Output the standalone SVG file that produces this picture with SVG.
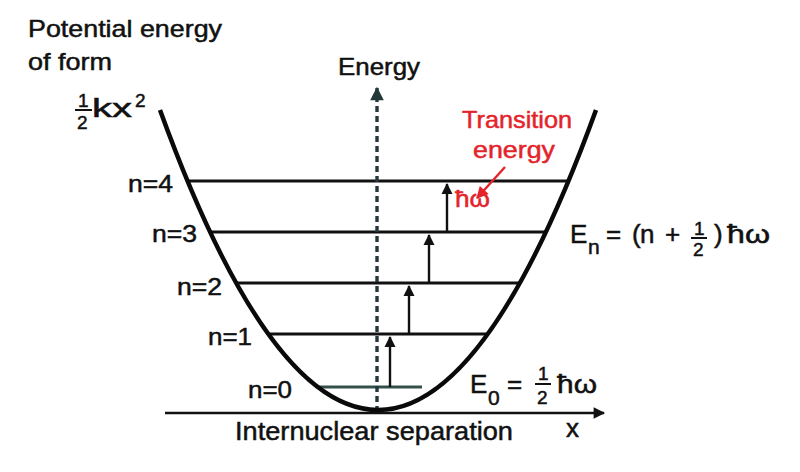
<svg xmlns="http://www.w3.org/2000/svg" width="800" height="472" viewBox="0 0 800 472">
<defs>
<style>
text{font-family:"Liberation Sans",Arial,sans-serif;fill:#111;stroke:#111;stroke-width:0.5px;}
.lbl{font-size:24px;}
.big{font-size:26px;}
.sm{font-size:19px;}
.sub{font-size:21px;}
.red{fill:#e3242b;stroke:#e3242b;}
.lvl{stroke:#111;stroke-width:2.8;fill:none;}
.arr{stroke:#111;stroke-width:2.4;fill:none;}
</style>
<marker id="ah" viewBox="0 0 10 10" refX="9" refY="5" markerWidth="5.5" markerHeight="4.6" orient="auto" markerUnits="strokeWidth">
<path d="M0,0 L10,5 L0,10 z" fill="#111"/>
</marker>
<marker id="ahd" viewBox="0 0 10 10" refX="9" refY="5" markerWidth="4.5" markerHeight="4" orient="auto" markerUnits="strokeWidth">
<path d="M0,0 L10,5 L0,10 z" fill="#24383a"/>
</marker>
<marker id="ahr" viewBox="0 0 10 10" refX="9" refY="5" markerWidth="5.5" markerHeight="5" orient="auto" markerUnits="strokeWidth">
<path d="M0,0 L10,5 L0,10 z" fill="#e3242b"/>
</marker>
</defs>
<rect width="800" height="472" fill="#fff"/>

<g id="levels">
<line class="lvl" x1="187" y1="181" x2="569" y2="181"/>
<line class="lvl" x1="210" y1="232" x2="546" y2="232"/>
<line class="lvl" x1="236" y1="283" x2="520" y2="283"/>
<line class="lvl" x1="268" y1="334" x2="488" y2="334"/>
<line class="lvl" x1="317" y1="387" x2="422" y2="387" style="stroke:#34504b"/>
</g>

<g id="connectors">
<line x1="165" y1="413" x2="604" y2="413" stroke="#111" stroke-width="2.5" marker-end="url(#ah)"/>
<line x1="377" y1="412" x2="377" y2="88" stroke="#24383a" stroke-width="3.4" stroke-dasharray="6,4" marker-end="url(#ahd)"/>
<line class="arr" x1="390" y1="387" x2="390" y2="337" marker-end="url(#ah)"/>
<line class="arr" x1="409" y1="334" x2="409" y2="286" marker-end="url(#ah)"/>
<line class="arr" x1="429" y1="283" x2="429" y2="235" marker-end="url(#ah)"/>
<line class="arr" x1="447" y1="232" x2="447" y2="184" marker-end="url(#ah)"/>
<line x1="505" y1="167" x2="477" y2="198" stroke="#e3242b" stroke-width="2.4" marker-end="url(#ahr)"/>
</g>

<g id="curve">
<path d="M160,110 Q378,710 596,110" fill="none" stroke="#0a0a0a" stroke-width="4.5"/>
</g>

<g id="title">
<text class="lbl" x="28" y="37" textLength="194" lengthAdjust="spacingAndGlyphs">Potential energy</text>
<text class="lbl" x="28" y="70" textLength="84" lengthAdjust="spacingAndGlyphs">of form</text>
</g>

<g id="potential-formula">
<text class="sm" x="78" y="107">1</text>
<line x1="75" y1="110" x2="92" y2="110" stroke="#111" stroke-width="2"/>
<text class="sm" x="77" y="129">2</text>
<text class="big" x="92" y="117" textLength="40" lengthAdjust="spacingAndGlyphs">kx</text>
<text class="sm" x="135" y="107">2</text>
</g>

<g id="energy-axis-label">
<text class="lbl" x="338" y="75" textLength="82" lengthAdjust="spacingAndGlyphs">Energy</text>
</g>

<g id="transition-label">
<text class="lbl red" x="462" y="128" textLength="110" lengthAdjust="spacingAndGlyphs">Transition</text>
<text class="lbl red" x="473" y="158" textLength="82" lengthAdjust="spacingAndGlyphs">energy</text>
<text class="lbl red" x="455" y="207" textLength="35" lengthAdjust="spacingAndGlyphs">ħω</text>
</g>

<g id="level-labels">
<text class="lbl" x="128" y="192" textLength="45" lengthAdjust="spacingAndGlyphs">n=4</text>
<text class="lbl" x="152" y="242" textLength="45" lengthAdjust="spacingAndGlyphs">n=3</text>
<text class="lbl" x="177" y="295" textLength="45" lengthAdjust="spacingAndGlyphs">n=2</text>
<text class="lbl" x="208" y="345" textLength="44" lengthAdjust="spacingAndGlyphs">n=1</text>
<text class="lbl" x="248" y="398" textLength="44" lengthAdjust="spacingAndGlyphs">n=0</text>
</g>

<g id="en-formula">
<text class="big" x="570" y="243">E</text>
<text class="sub" x="588" y="254">n</text>
<text class="big" x="606" y="243">=</text>
<text class="big" x="632" y="243">(</text>
<text class="big" x="640" y="243">n</text>
<text class="big" x="665" y="243">+</text>
<text class="sm" x="694" y="235">1</text>
<line x1="691" y1="238" x2="707" y2="238" stroke="#111" stroke-width="2"/>
<text class="sm" x="693" y="256">2</text>
<text class="big" x="714" y="243">)</text>
<text class="big" x="727" y="243" textLength="43" lengthAdjust="spacingAndGlyphs">ħω</text>
</g>

<g id="e0-formula">
<text class="big" x="470" y="393">E</text>
<text class="sub" x="488" y="405">0</text>
<text class="big" x="507" y="393">=</text>
<text class="sm" x="538" y="380">1</text>
<line x1="535" y1="384" x2="551" y2="384" stroke="#111" stroke-width="2"/>
<text class="sm" x="537" y="404">2</text>
<text class="big" x="557" y="393" textLength="40" lengthAdjust="spacingAndGlyphs">ħω</text>
</g>

<g id="x-axis-labels">
<text class="big" x="235" y="440" textLength="278" lengthAdjust="spacingAndGlyphs">Internuclear separation</text>
<text class="big" x="566" y="437">x</text>
</g>
</svg>
